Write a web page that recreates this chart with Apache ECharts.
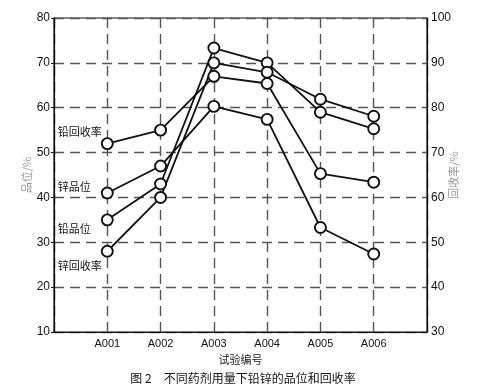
<!DOCTYPE html>
<html>
<head>
<meta charset="utf-8">
<script src="https://cdn.jsdelivr.net/npm/echarts@6/dist/echarts.min.js"></script>
<style>html,body{margin:0;padding:0;background:#fff}#c{width:486px;height:387px}</style>
</head>
<body>
<div id="c"></div>
<script>
const categories = ['A001','A002','A003','A004','A005','A006'];
const leftTicks = [10,20,30,40,50,60,70,80];
const rightTicks = [30,40,50,60,70,80,90,100];
// 品位 (left axis, %)
const pbGrade = [35, 43, 73.3, 70, 59, 55.3];      // 铅品位
const znGrade = [41, 47, 60.3, 57.4, 33.3, 27.4];  // 锌品位
// 回收率 (right axis, %)
const pbRecovery = [72, 75, 87, 85.4, 65.3, 63.4]; // 铅回收率
const znRecovery = [48, 60, 90, 87.9, 81.9, 78.1]; // 锌回收率
const seriesNames = ['铅回收率','锌品位','铅品位','锌回收率'];

const font = '"Liberation Sans", Arial, sans-serif';
const cjk = '"Noto Sans CJK SC", sans-serif';
const axisCats = [''].concat(categories).concat([' ']);

function mk(name, vals, axisIdx, labelOffset) {
  return {
    name: name, type: 'line', yAxisIndex: axisIdx,
    symbol: 'circle', symbolSize: 11,
    lineStyle: {color: '#111', width: 1.8},
    itemStyle: {color: '#fff', borderColor: '#111', borderWidth: 1.9},
    z: 5,
    data: vals.map((v, i) => {
      const d = {value: [categories[i], v]};
      if (i === 0) {
        d.label = {show: true, formatter: name, position: labelOffset, color: '#111',
          fontFamily: cjk, fontSize: 11, align: 'left', verticalAlign: 'middle'};
      }
      return d;
    })
  };
}

const chart = echarts.init(document.getElementById('c'));
chart.setOption({
  animation: false,
  backgroundColor: '#fff',
  title: {text: '图 2　不同药剂用量下铅锌的品位和回收率', left: 'center', top: 367,
    textStyle: {fontFamily: cjk, fontSize: 12, fontWeight: 'normal', color: '#111'}},
  grid: {left: 54, right: 59, top: 18, bottom: 55, show: true, borderColor: '#111', borderWidth: 1.2},
  xAxis: {
    type: 'category', data: axisCats, boundaryGap: false,
    name: '试验编号', nameLocation: 'middle', nameGap: 19,
    nameTextStyle: {fontFamily: cjk, fontSize: 11, color: '#222'},
    axisLine: {lineStyle: {color: '#111', width: 1.2}},
    axisTick: {show: false},
    axisLabel: {interval: 0, fontFamily: font, fontSize: 11, color: '#111', margin: 6},
    splitLine: {show: true, lineStyle: {color: '#555', type: [10, 6], width: 1.4}}
  },
  yAxis: [{
    type: 'value', min: leftTicks[0], max: leftTicks[leftTicks.length-1], interval: 10,
    name: '品位/%', nameLocation: 'middle', nameGap: 22, nameRotate: 90, nameMoveOverlap: false,
    nameTextStyle: {fontFamily: cjk, fontSize: 11, color: '#999'},
    axisLine: {show: true, lineStyle: {color: '#111', width: 1.2}},
    axisTick: {show: true, length: 3, lineStyle: {color: '#111'}},
    axisLabel: {fontFamily: font, fontSize: 12, color: '#111', margin: 4},
    splitLine: {show: true, lineStyle: {color: '#555', type: [10, 6], width: 1.4}}
  }, {
    type: 'value', min: rightTicks[0], max: rightTicks[rightTicks.length-1], interval: 10,
    name: '回收率/%', nameLocation: 'middle', nameGap: 21, nameRotate: 90, nameMoveOverlap: false,
    nameTextStyle: {fontFamily: cjk, fontSize: 11, color: '#999'},
    axisLine: {show: true, lineStyle: {color: '#111', width: 1.2}},
    axisTick: {show: false},
    axisLabel: {fontFamily: font, fontSize: 12, color: '#111', margin: 4},
    splitLine: {show: false}
  }],
  series: [
    mk(seriesNames[0], pbRecovery, 1, [-43, -5]),
    mk(seriesNames[1], znGrade, 0, [-43, 0]),
    mk(seriesNames[2], pbGrade, 0, [-43, 15]),
    mk(seriesNames[3], znRecovery, 1, [-43, 21])
  ]
});
</script>
</body>
</html>
